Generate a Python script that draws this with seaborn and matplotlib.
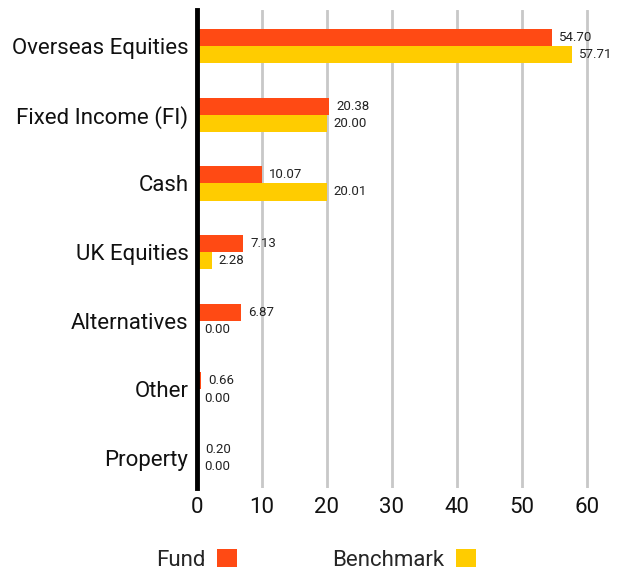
import pandas as pd
import matplotlib.pyplot as plt
import seaborn as sns
from matplotlib.patches import Patch

categories = ["Overseas Equities", "Fixed Income (FI)", "Cash", "UK Equities",
              "Alternatives", "Other", "Property"]
fund = [54.70, 20.38, 10.07, 7.13, 6.87, 0.66, 0.20]
benchmark = [57.71, 20.00, 20.01, 2.28, 0.00, 0.00, 0.00]
series = ["Fund", "Benchmark"]
colors = ["#FF4A14", "#FFCC00"]

df = pd.DataFrame({
    "category": categories * 2,
    "value": fund + benchmark,
    "series": ["Fund"] * len(fund) + ["Benchmark"] * len(benchmark),
})

sns.set_style("white")
plt.rcParams["font.family"] = ["Roboto", "DejaVu Sans"]

fig = plt.figure(figsize=(6.17, 5.73), dpi=100)
ax = fig.add_axes([0.319, 0.148, 0.653, 0.8345])

sns.barplot(data=df, x="value", y="category", hue="series", order=categories,
            hue_order=series, palette=colors, width=0.5, saturation=1,
            orient="h", ax=ax, legend=False, linewidth=0)

for cont in ax.containers:
    ax.bar_label(cont, fmt="%.2f", padding=5, fontsize=9.5, color="#222222")

ax.set_xlim(0, 62)
ax.set_ylim(6.437, -0.524)
ax.set_xticks([0, 10, 20, 30, 40, 50, 60])
ax.grid(axis="x", color="#c8c8c8", linewidth=2)
ax.set_axisbelow(True)
for s in ["top", "right", "bottom"]:
    ax.spines[s].set_visible(False)
ax.spines["left"].set_color("black")
ax.spines["left"].set_linewidth(3.5)
ax.spines["left"].set_zorder(5)
ax.tick_params(axis="both", length=0, labelsize=16, colors="#111111", pad=6)
ax.set_xlabel("")
ax.set_ylabel("")

handles = [Patch(facecolor=c, edgecolor="none") for c in colors]
fig.legend(handles, series, loc="center", bbox_to_anchor=(0.512, 0.023),
           ncol=2, frameon=False, markerfirst=False, fontsize=16,
           handlelength=0.9, handleheight=0.9, handletextpad=0.5,
           columnspacing=4.3)

fig.savefig("out.png", dpi=100)
